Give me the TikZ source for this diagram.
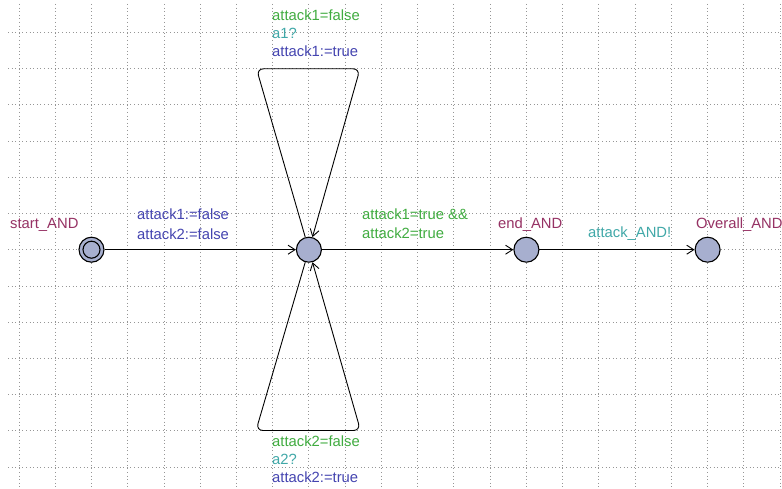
\documentclass[tikz,border=0pt]{standalone}
\usepackage{fontspec}
\setmainfont{Liberation Sans}
\usetikzlibrary{arrows.meta}
\definecolor{locname}{RGB}{150,50,100}
\definecolor{guardc}{RGB}{64,172,64}
\definecolor{syncc}{RGB}{64,168,168}
\definecolor{assignc}{RGB}{68,68,176}
\definecolor{locfill}{RGB}{167,175,207}
\definecolor{gridc}{RGB}{150,150,150}
\begin{document}
\begin{tikzpicture}[x=1pt,y=-1pt,
  font=\fontsize{14.8}{18}\selectfont,
  gridline/.style={gridc,line width=0.9pt,dash pattern=on 1pt off 2.6pt},
  loc/.style={circle,draw=black,fill=locfill,line width=1.1pt,minimum size=25pt,inner sep=0pt},
  initloc/.style={loc,double=locfill,double distance=0pt},
  edge/.style={draw=black,line width=0.9pt,-{Straight Barb[length=7pt,width=9pt,line width=0.9pt]}},
  lbl/.style={anchor=base west,inner sep=0pt},
  namelbl/.style={lbl,text=locname},
  guardlbl/.style={lbl,text=guardc},
  synclbl/.style={lbl,text=syncc},
  assignlbl/.style={lbl,text=assignc}]
\useasboundingbox (0,0) rectangle (782,489);
\fill[white] (0,0) rectangle (782,489);
% dotted background grid
\foreach \k in {0,...,21}
  \draw[gridline] ({19+36.24*\k},4) -- ({19+36.24*\k},489);
\foreach \k in {0,...,12}
  \draw[gridline] (8,{32.3+36.24*\k}) -- (782,{32.3+36.24*\k});

% locations
\node[loc] (s) at (91.5,249.7) {};
\draw[line width=1.1pt] (s.center) circle[radius=8.5pt];
\node[loc] (c) at (308.9,249.7) {};
\node[loc] (e) at (526.4,249.7) {};
\node[loc] (o) at (707.6,249.7) {};

% nails of the two self loops
\coordinate (tl) at (256.5,68.8);
\coordinate (tr) at (360,68.8);
\coordinate (bl) at (256,430.5);
\coordinate (br) at (360.5,430.5);

% edges
\draw[edge] (s) -- (c);
\draw[edge] (c) -- (e);
\draw[edge] (e) -- (o);
\draw[edge,rounded corners=7pt] (c) -- (tl) -- (tr) -- (c);
\draw[edge,rounded corners=7pt] (c) -- (bl) -- (br) -- (c);

% location names
\node[namelbl] (ns) at (10,229) {start\_AND};
\node[namelbl] (ne) at (498,229) {end\_AND};
\node[namelbl] (no) at (696,229) {Overall\_AND};

% edge labels
\node[assignlbl] (a1) at (137,220) {attack1:=false};
\node[assignlbl] (a2) at (137,240) {attack2:=false};

\node[guardlbl] (g1) at (272,21) {attack1=false};
\node[synclbl] (y1) at (272,38.5) {a1?};
\node[assignlbl] (u1) at (272,57) {attack1:=true};

\node[guardlbl] (g2) at (272,446) {attack2=false};
\node[synclbl] (y2) at (272,464) {a2?};
\node[assignlbl] (u2) at (272,482) {attack2:=true};

\node[guardlbl] (g3) at (362,220) {attack1=true \&\&};
\node[guardlbl] (g4) at (362,239) {attack2=true};

\node[synclbl] (y3) at (588,238) {attack\_AND!};
\end{tikzpicture}
\end{document}
